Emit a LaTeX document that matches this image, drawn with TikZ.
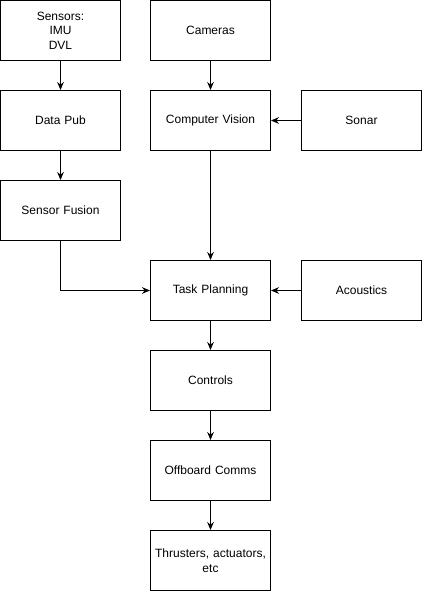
\documentclass[tikz,border=0pt]{standalone}
\usepackage{fontspec}
\setmainfont{Liberation Sans}
\usetikzlibrary{positioning,arrows.meta}
\begin{document}
\begin{tikzpicture}[node distance=21.75pt, >={Stealth[length=6pt,width=5pt]}, line width=0.75pt]
  \tikzstyle{block} = [rectangle, draw, text width=88pt, align=center, minimum width=90pt, minimum height=45pt, inner sep=1pt, font=\fontsize{9pt}{11pt}\selectfont]

  \useasboundingbox (0,0) rectangle (316.5pt,-443.25pt);

  \node [block, anchor=north west] (sensors) at (0pt,0pt) {Sensors:\\IMU\\DVL};
  \node [block, right=of sensors] (cameras) {Cameras};
  \node [block, below=of sensors] (datapub) {Data Pub};
  \node [block, below=of cameras] (vision) {Computer Vision};
  \node [block, right=22.5pt of vision] (sonar) {Sonar};
  \node [block, below=of datapub] (fusion) {Sensor Fusion};
  \node [block, below=81.75pt of vision] (planning) {Task Planning};
  \node [block, right=22.5pt of planning] (acoustics) {Acoustics};
  \node [block, below=of planning] (controls) {Controls};
  \node [block, below=of controls] (comms) {Offboard Comms};
  \node [block, below=of comms] (thrusters) {Thrusters, actuators,\\etc};

  \draw[->] (sensors) -- (datapub);
  \draw[->] (datapub) -- (fusion);
  \draw[->] (cameras) -- (vision);
  \draw[->] (sonar) -- (vision);
  \draw[->] (vision) -- (planning);
  \draw[->] (fusion) |- (planning);
  \draw[->] (acoustics) -- (planning);
  \draw[->] (planning) -- (controls);
  \draw[->] (controls) -- (comms);
  \draw[->] (comms) -- (thrusters);
\end{tikzpicture}
\end{document}
